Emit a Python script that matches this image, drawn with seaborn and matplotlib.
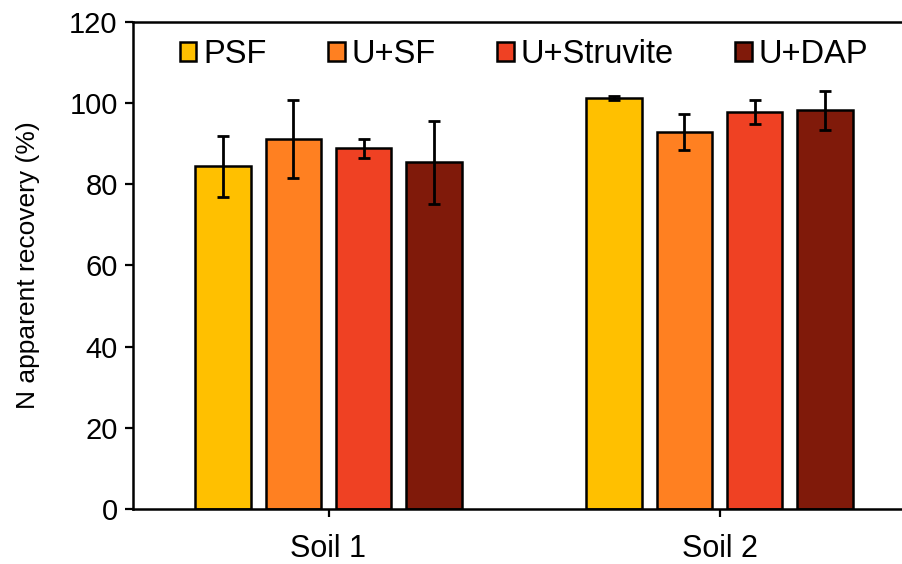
import matplotlib
matplotlib.use("Agg")
import matplotlib.pyplot as plt
import seaborn as sns
import pandas as pd
import numpy as np

soils = ["Soil 1", "Soil 2"]
treatments = ["PSF", "U+SF", "U+Struvite", "U+DAP"]
soil1_mean = [84.4, 91.2, 88.9, 85.4]
soil1_err = [7.4, 9.6, 2.3, 10.3]
soil2_mean = [101.2, 92.9, 97.9, 98.2]
soil2_err = [0.5, 4.4, 3.0, 4.7]
colors = ["#FFC000", "#FF8021", "#EF4123", "#801A0A"]
y_ticks = [0, 20, 40, 60, 80, 100, 120]

rows = []
for t, m, e in zip(treatments, soil1_mean, soil1_err):
    rows.append({"Soil": "Soil 1", "Treatment": t, "Mean": m, "Err": e})
for t, m, e in zip(treatments, soil2_mean, soil2_err):
    rows.append({"Soil": "Soil 2", "Treatment": t, "Mean": m, "Err": e})
df = pd.DataFrame(rows)

sns.set_style("ticks")
plt.rcParams["font.family"] = ["Liberation Sans", "DejaVu Sans"]
plt.rcParams["text.color"] = "black"
plt.rcParams["axes.labelcolor"] = "black"
plt.rcParams["xtick.color"] = "black"
plt.rcParams["ytick.color"] = "black"

fig = plt.figure(figsize=(9.02, 5.64), dpi=100)
ax = fig.add_axes([133 / 902, (564 - 509) / 564, 782 / 902, 487 / 564])

sns.barplot(data=df, x="Soil", y="Mean", hue="Treatment", order=soils,
            hue_order=treatments, palette=colors, saturation=1, width=0.72,
            gap=0.21, edgecolor="black", linewidth=1.8, errorbar=None, ax=ax)

# error bars aligned with bars
for hi, t in enumerate(treatments):
    cont = ax.containers[hi]
    for si, s in enumerate(soils):
        patch = cont.patches[si]
        xc = patch.get_x() + patch.get_width() / 2
        sub = df[(df.Soil == s) & (df.Treatment == t)].iloc[0]
        ax.errorbar(xc, sub.Mean, yerr=sub.Err, fmt="none", ecolor="black",
                    elinewidth=2.0, capsize=4.5, capthick=2.0, zorder=5)

ax.set_ylim(0, 120)
ax.set_xlim(-0.5, 1.5)
ax.set_yticks(y_ticks)
ax.set_xlabel("")
ax.set_ylabel("N apparent recovery (%)", fontsize=19, labelpad=21)
ax.tick_params(axis="both", labelsize=21, width=1.6, length=6, direction="out",
               colors="black")
ax.tick_params(axis="y", pad=5)
ax.tick_params(axis="x", pad=12, labelsize=22)
for sp in ax.spines.values():
    sp.set_linewidth(1.8)
    sp.set_color("black")
    sp.set_visible(True)

handles, labels = ax.get_legend_handles_labels()
leg = ax.legend(handles, labels, loc="upper center", bbox_to_anchor=(0.5, 1.025),
                ncol=4, frameon=False, fontsize=23.5, handlelength=0.5,
                handleheight=0.5, handletextpad=0.2, columnspacing=1.9)
for h in leg.legend_handles:
    h.set_edgecolor("black")
    h.set_linewidth(1.8)

fig.savefig("out.png", dpi=100)
